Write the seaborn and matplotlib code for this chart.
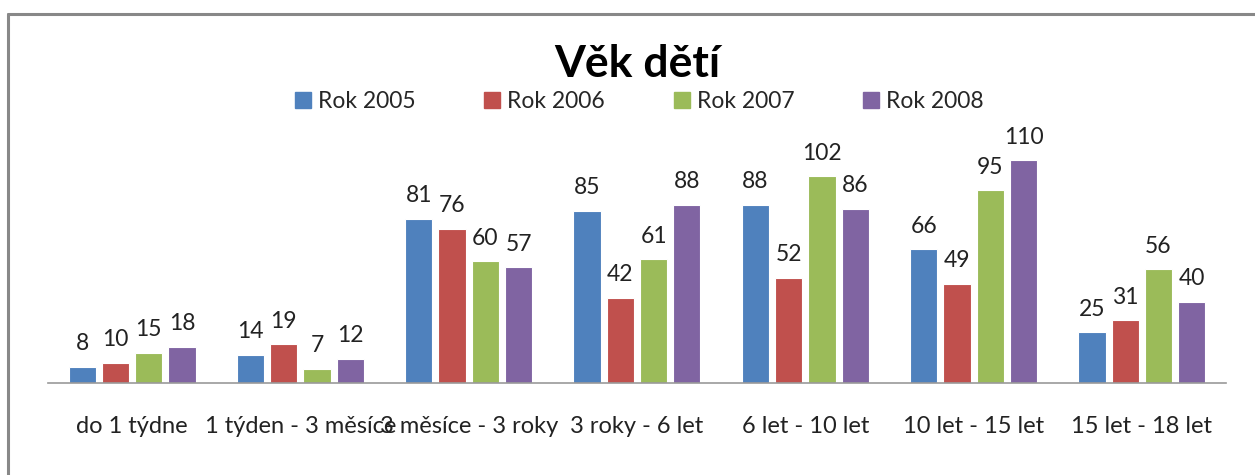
import pandas as pd
import seaborn as sb
import matplotlib.pyplot as plt
from matplotlib.lines import Line2D

categories = ["do 1 týdne", "1 týden - 3 měsíce", "3 měsíce - 3 roky", "3 roky - 6 let",
              "6 let - 10 let", "10 let - 15 let", "15 let - 18 let"]
rok_2005 = [8, 14, 81, 85, 88, 66, 25]
rok_2006 = [10, 19, 76, 42, 52, 49, 31]
rok_2007 = [15, 7, 60, 61, 102, 95, 56]
rok_2008 = [18, 12, 57, 88, 86, 110, 40]
series = ["Rok 2005", "Rok 2006", "Rok 2007", "Rok 2008"]
colors = ["#4F81BD", "#C0504D", "#9BBB59", "#8064A2"]

rows = []
for name, vals in zip(series, [rok_2005, rok_2006, rok_2007, rok_2008]):
    for cat, v in zip(categories, vals):
        rows.append({"Věk": cat, "Rok": name, "Počet": v})
df = pd.DataFrame(rows)

sb.set_style("white")
plt.rcParams['font.family'] = ['Lato', 'DejaVu Sans']

fig = plt.figure(figsize=(12.55, 4.75), dpi=100)
ax = fig.add_axes([0.0382, 0.1937, 0.9387, 0.512])

sb.barplot(data=df, x="Věk", y="Počet", hue="Rok", palette=colors,
           width=0.79, gap=0.18, edgecolor="white", linewidth=0.8,
           saturation=1, legend=False, ax=ax)

for cont in ax.containers:
    ax.bar_label(cont, padding=9, fontsize=16.5, color="#222222")

ax.set_ylim(0, 120)
ax.set_xlim(-0.5, len(categories) - 0.5)
ax.set_xlabel("")
ax.set_ylabel("")
ax.set_yticks([])
for s in ["top", "right", "left"]:
    ax.spines[s].set_visible(False)
ax.spines["bottom"].set_color("#999999")
ax.spines["bottom"].set_linewidth(1.2)
ax.tick_params(axis="x", length=0, pad=24, labelsize=17, labelcolor="#222222")

handles = [Line2D([], [], marker="s", linestyle="", markersize=11, color=c) for c in colors]
fig.legend(handles, series, loc="center", bbox_to_anchor=(0.508, 0.787), ncol=4,
           frameon=False, fontsize=16.5, columnspacing=2.85, handletextpad=0.15,
           handlelength=1.0)

fig.text(0.508, 0.865, "Věk dětí", ha="center", va="center", fontsize=32,
         fontweight="bold", color="black")

# ramecek grafu (jen horni a leva strana jsou videt)
fig.add_artist(Line2D([8 / 1255, 1], [1 - 14 / 475, 1 - 14 / 475], color="#888888", lw=2.2))
fig.add_artist(Line2D([8 / 1255, 8 / 1255], [0, 1 - 14 / 475], color="#888888", lw=2.2))

fig.savefig("out.png", dpi=100)
